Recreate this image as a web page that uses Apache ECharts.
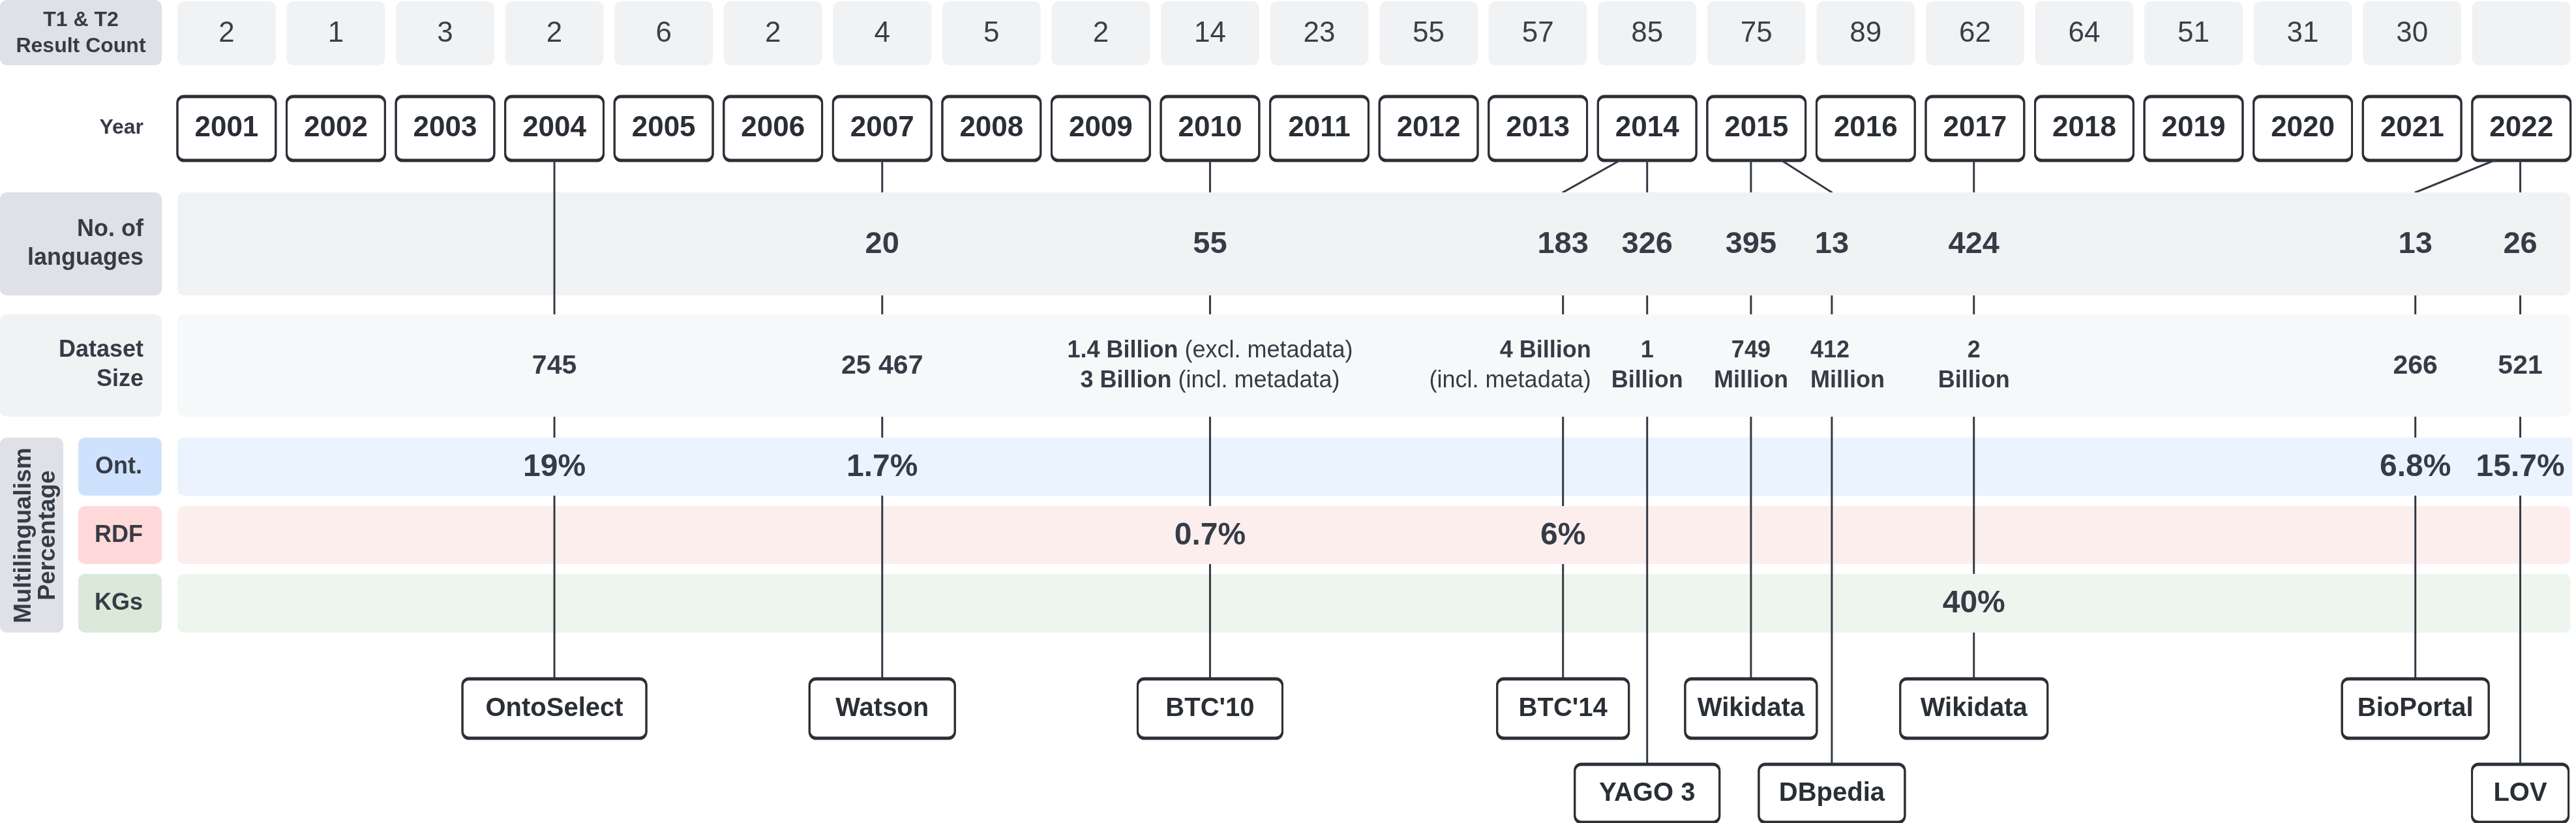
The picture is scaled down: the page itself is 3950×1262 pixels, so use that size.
<!DOCTYPE html>
<html>
<head>
<meta charset="utf-8">
<script src="https://cdn.jsdelivr.net/npm/echarts@6/dist/echarts.min.js"></script>
<style>
  html, body { margin: 0; padding: 0; background: #fff; }
  #chart { width: 3950px; height: 1262px; }
</style>
</head>
<body>
<div id="chart"></div>
<script>
// ---- data ----
var years = [2001, 2002, 2003, 2004, 2005, 2006, 2007, 2008, 2009, 2010, 2011,
             2012, 2013, 2014, 2015, 2016, 2017, 2018, 2019, 2020, 2021, 2022];
var resultCounts = [2, 1, 3, 2, 6, 2, 4, 5, 2, 14, 23, 55, 57, 85, 75, 89, 62, 64, 51, 31, 30, null];

var sources     = ['OntoSelect', 'Watson', "BTC'10", "BTC'14", 'YAGO 3', 'Wikidata', 'DBpedia', 'Wikidata', 'BioPortal', 'LOV'];
var sourceYear  = [2004, 2007, 2010, 2014, 2014, 2015, 2015, 2017, 2022, 2022];
var sourcePos   = [2004, 2007, 2010, 2013.23, 2014, 2014.95, 2015.69, 2016.99, 2021.03, 2021.99];
var languages   = [null, 20, 55, 183, 326, 395, 13, 424, 13, 26];
var datasetSize = ['745', '25 467', '1.4 Billion (excl. metadata)\n3 Billion (incl. metadata)',
                   '4 Billion\n(incl. metadata)', '1\nBillion', '749\nMillion', '412\nMillion',
                   '2\nBillion', '266', '521'];
var multiKind   = ['ont', 'ont', 'rdf', 'rdf', null, null, null, 'kg', 'ont', 'ont'];
var multiPct    = [19, 1.7, 0.7, 6, null, null, null, 40, 6.8, 15.7];

// ---- layout (px) ----
var ROW = {
  count: [2, 100], year: [147, 245], lang: [295, 453], size: [482, 639],
  ont: [671, 760], rdf: [776, 865], kg: [880, 970], up: [1040, 1131], low: [1171, 1260]
};
var boxTier   = [0, 0, 0, 0, 1, 0, 1, 0, 0, 1];
var boxWidth  = [282, 223, 222, 202, 222, 202, 224, 226, 225, 148];
var sizeAlign = ['center', 'center', 'center', 'right', 'center', 'center', 'left', 'center', 'center', 'center'];
var sizeShift = [0, 0, 0, 43, 0, 0, -33, 0, 0, 0];
var forkStart = [0, 0, 0, -40, 0, 0, 37, 0, -39, 0]; // slanted link leaves the year box here

var FONT = '"Liberation Sans", Arial, sans-serif';
var C = {
  ink: '#363c46', frame: '#2b2f36', line: '#343a43',
  head: '#dfe1e6', countBg: '#f1f2f4',
  lang: '#f1f2f4', size: '#f7f8f9', sizeHead: '#f1f2f4',
  ont: '#ebf3fe', ontHead: '#cfe2fd',
  rdf: '#fdeeee', rdfHead: '#ffd9d9',
  kg: '#eef5ee', kgHead: '#dbe8da'
};

var mctx = document.createElement('canvas').getContext('2d');
function textW(s, font) { mctx.font = font; return mctx.measureText(s).width; }

function txt(x, y, s, font, fill, align) {
  align = align || 'center';
  return { type: 'text', style: { x: x, y: y, text: s, font: font, fill: fill || C.ink,
    align: align, verticalAlign: 'middle', textAlign: align, textVerticalAlign: 'middle' } };
}
function frame(cx, top, w, h) {
  return { type: 'rect', shape: { x: cx - w / 2, y: top, width: w, height: h, r: 10 },
    style: { fill: '#fff', stroke: C.frame, lineWidth: 3, shadowColor: C.frame, shadowOffsetY: 2, shadowBlur: 0 } };
}
function cover(cx, w, row, fill) {
  return { type: 'rect', shape: { x: cx - w / 2, y: row[0], width: w, height: row[1] - row[0] }, style: { fill: fill } };
}
function headText(x, y, s, size, align) {
  return { type: 'text', x: x, y: y, style: { text: s, font: 'bold ' + size + 'px ' + FONT, fill: C.ink,
    align: align, verticalAlign: 'middle' } };
}
function headBox(x, y, w, h, fill) {
  return { type: 'rect', shape: { x: x, y: y, width: w, height: h, r: 10 }, style: { fill: fill } };
}

var chart = echarts.init(document.getElementById('chart'), null, { renderer: 'canvas' });

function Y(api, v) { return api.coord([2011, v])[1]; }

var bandKeys = ['lang', 'size', 'ont', 'rdf', 'kg'];

var option = {
  animation: false,
  grid: { left: 263.6, right: -5.9, top: 0, bottom: 0 },
  xAxis: { type: 'value', min: 2000.5, max: 2022.5, show: false },
  yAxis: { type: 'value', min: 0, max: 1262, inverse: true, show: false },
  graphic: [
    headBox(0, 0, 248, 100, C.head),
    headText(124, 31, 'T1 & T2', 32, 'center'),
    headText(124, 71, 'Result Count', 32, 'center'),
    headText(220, 196, 'Year', 32, 'right'),
    headBox(0, 295, 248, 158, C.head),
    headText(220, 352, 'No. of', 36, 'right'),
    headText(220, 396, 'languages', 36, 'right'),
    headBox(0, 482, 248, 157, C.sizeHead),
    headText(220, 537, 'Dataset', 36, 'right'),
    headText(220, 582, 'Size', 36, 'right'),
    headBox(0, 671, 97, 299, C.head),
    { type: 'text', x: 55, y: 821, rotation: Math.PI / 2,
      style: { text: 'Multilingualism\nPercentage', font: 'bold 37px ' + FONT, lineHeight: 37,
               fill: C.ink, align: 'center', verticalAlign: 'middle' } },
    headBox(120, 671, 128, 89, C.ontHead),
    headText(218, 716, 'Ont.', 36, 'right'),
    headBox(120, 776, 128, 89, C.rdfHead),
    headText(219, 821, 'RDF', 36, 'right'),
    headBox(120, 880, 128, 90, C.kgHead),
    headText(219, 925, 'KGs', 36, 'right')
  ],
  series: [
    {
      // row bands
      type: 'custom', z: 1, silent: true,
      data: bandKeys.map(function (k, i) { return [2011, i]; }),
      renderItem: function (params, api) {
        var k = bandKeys[params.dataIndex];
        var r = ROW[k];
        var x0 = api.coord([2000.55, 0])[0], x1 = api.coord([2022.45, 0])[0];
        return { type: 'rect', shape: { x: x0, y: Y(api, r[0]), width: x1 - x0, height: Y(api, r[1]) - Y(api, r[0]), r: 10 },
                 style: { fill: C[k] } };
      }
    },
    {
      // T1 & T2 result count per year
      type: 'custom', z: 2, silent: true,
      data: years.map(function (y, i) { return [y, resultCounts[i]]; }),
      renderItem: function (params, api) {
        var cx = api.coord([api.value(0), 0])[0];
        var w = api.size([0.9, 0])[0];
        var c = resultCounts[params.dataIndex];
        var t = Y(api, ROW.count[0]), b = Y(api, ROW.count[1]);
        var kids = [{ type: 'rect', shape: { x: cx - w / 2, y: t, width: w, height: b - t, r: 10 }, style: { fill: C.countBg } }];
        if (c != null) kids.push(txt(cx, (t + b) / 2 + 1, String(c), '44px ' + FONT, '#3a3f47'));
        return { type: 'group', children: kids };
      }
    },
    {
      // year boxes
      type: 'custom', z: 2, silent: true,
      data: years.map(function (y) { return [y, 0]; }),
      renderItem: function (params, api) {
        var y = api.value(0);
        var cx = api.coord([y, 0])[0];
        var w = api.size([0.9, 0])[0];
        var t = Y(api, ROW.year[0]), b = Y(api, ROW.year[1]);
        return { type: 'group', children: [
          frame(cx, t, w, b - t),
          txt(cx, (t + b) / 2 + 1, String(y), 'bold 44px ' + FONT, '#2a2e35')
        ] };
      }
    },
    {
      // links from year to source
      type: 'custom', z: 3, silent: true,
      data: sources.map(function (s, i) { return [sourcePos[i], 0]; }),
      renderItem: function (params, api) {
        var i = params.dataIndex;
        var ex = api.coord([sourcePos[i], 0])[0];
        var yx = api.coord([sourceYear[i], 0])[0];
        var yb = Y(api, ROW.year[1]);
        var end = Y(api, boxTier[i] ? ROW.low[0] : ROW.up[0]);
        var pts = forkStart[i] ? [[yx + forkStart[i], yb], [ex, Y(api, ROW.lang[0])], [ex, end]] : [[ex, yb], [ex, end]];
        return { type: 'polyline', shape: { points: pts }, style: { stroke: C.line, lineWidth: 3, fill: null } };
      }
    },
    {
      // values and source boxes
      type: 'custom', z: 4, silent: true,
      data: sources.map(function (s, i) { return [sourcePos[i], 0]; }),
      renderItem: function (params, api) {
        var i = params.dataIndex;
        var ex = api.coord([sourcePos[i], 0])[0];
        var kids = [];
        var lr = [Y(api, ROW.lang[0]), Y(api, ROW.lang[1])];

        if (languages[i] != null) {
          var lf = 'bold 47px ' + FONT, ls = String(languages[i]);
          kids.push(cover(ex, textW(ls, lf) + 24, lr, C.lang));
          kids.push(txt(ex, (lr[0] + lr[1]) / 2 + 1, ls, lf));
        }

        // dataset size, numbers bold, notes in brackets regular
        var sr = [Y(api, ROW.size[0]), Y(api, ROW.size[1])];
        var lines = datasetSize[i].split('\n');
        var fs = lines.length > 1 ? 36 : 41;
        var bf = 'bold ' + fs + 'px ' + FONT, nf = fs + 'px ' + FONT;
        var parts = lines.map(function (l) {
          var m = l.match(/^(.*?)\s*(\(.*\))?$/);
          var b = m[1] || '', n = m[2] || '';
          var bw = b ? textW(b, bf) : 0, gap = (b && n) ? textW(' ', nf) : 0, nw = n ? textW(n, nf) : 0;
          return { b: b, n: n, bw: bw, gap: gap, w: bw + gap + nw };
        });
        var maxW = Math.max.apply(null, parts.map(function (p) { return p.w; }));
        var anchor = ex + sizeShift[i];
        var blockL = sizeAlign[i] === 'left' ? anchor : sizeAlign[i] === 'right' ? anchor - maxW : anchor - maxW / 2;
        kids.push(cover(blockL + maxW / 2, maxW + 24, sr, C.size));
        var mid = (sr[0] + sr[1]) / 2;
        parts.forEach(function (p, k) {
          var ly = mid + (k - (parts.length - 1) / 2) * 46 + 1;
          var left = sizeAlign[i] === 'left' ? blockL : sizeAlign[i] === 'right' ? blockL + maxW - p.w : blockL + (maxW - p.w) / 2;
          if (p.b) kids.push(txt(left, ly, p.b, bf, C.ink, 'left'));
          if (p.n) kids.push(txt(left + p.bw + p.gap, ly, p.n, nf, C.ink, 'left'));
        });

        if (multiKind[i]) {
          var pr = ROW[multiKind[i]];
          var pRow = [Y(api, pr[0]), Y(api, pr[1])];
          var pf = 'bold 48px ' + FONT, ps = multiPct[i] + '%';
          kids.push(cover(ex, textW(ps, pf) + 24, pRow, C[multiKind[i]]));
          kids.push(txt(ex, (pRow[0] + pRow[1]) / 2 + 1, ps, pf));
        }

        var br = boxTier[i] ? ROW.low : ROW.up;
        var bt = Y(api, br[0]), bb = Y(api, br[1]);
        kids.push(frame(ex, bt, boxWidth[i], bb - bt));
        kids.push(txt(ex, (bt + bb) / 2 + 1, sources[i], 'bold 40px ' + FONT, '#2a2e35'));
        return { type: 'group', children: kids };
      }
    }
  ]
};
chart.setOption(option);
</script>
</body>
</html>
